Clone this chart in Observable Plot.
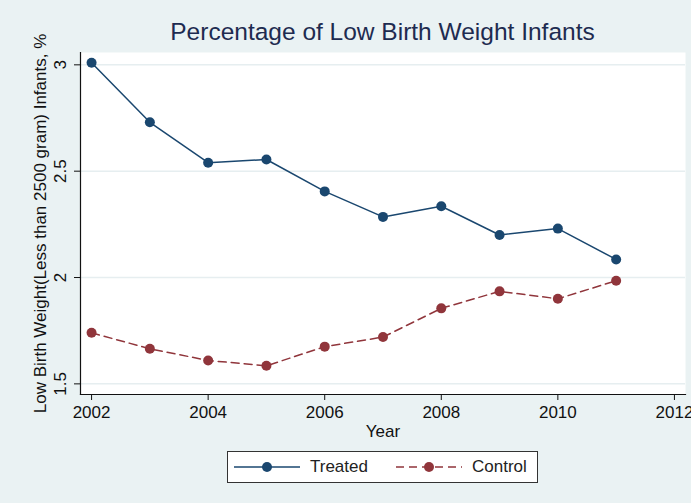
<!DOCTYPE html>
<html><head><meta charset="utf-8">
<script src="https://cdn.jsdelivr.net/npm/d3@7"></script>
<script src="https://cdn.jsdelivr.net/npm/@observablehq/plot@0.6"></script>
<style>
body{margin:0;background:#EAF2F3;}
#wrap{position:relative;width:691px;height:503px;background:#EAF2F3;font-family:"Liberation Sans",Arial,sans-serif;overflow:hidden}
#title{position:absolute;left:80px;width:605px;top:18px;line-height:28px;text-align:center;font-size:24.5px;color:#1e2b50;white-space:nowrap}
#chart{position:absolute;left:0;top:0}
#legend{position:absolute;left:227px;top:451px;width:311px;height:32px;box-sizing:border-box;background:#fff;border:1px solid #333;display:flex;align-items:center;font-size:17px;color:#222}
.item{display:flex;align-items:center}
</style></head>
<body>
<div id="wrap">
  <div id="chart"></div>
  <div id="title"></div>
  <div id="legend"></div>
</div>
<script>
const titleText = "Percentage of Low Birth Weight Infants";
const yLabel = "Low Birth Weight(Less than 2500 gram) Infants, %";
const xLabel = "Year";
const years = [2002, 2003, 2004, 2005, 2006, 2007, 2008, 2009, 2010, 2011];
const treated = [3.01, 2.73, 2.54, 2.555, 2.405, 2.285, 2.335, 2.2, 2.23, 2.085];
const control = [1.74, 1.665, 1.61, 1.585, 1.675, 1.72, 1.855, 1.935, 1.9, 1.985];
const seriesNames = ["Treated", "Control"];
const seriesColors = ["#1A476F", "#90353B"];
const seriesDash = [null, "8,5"];
const xTicks = [2002, 2004, 2006, 2008, 2010, 2012];
const yTicks = [1.5, 2, 2.5, 3];

const rows = [];
years.forEach((yr, i) => {
  rows.push({year: yr, value: treated[i], series: seriesNames[0]});
  rows.push({year: yr, value: control[i], series: seriesNames[1]});
});

document.getElementById("title").textContent = titleText;

const marks = [
  Plot.frame({fill: "white", stroke: null}),
  Plot.gridY(yTicks, {stroke: "#E6EEF0", strokeOpacity: 1, strokeWidth: 1.5}),
  Plot.frame({anchor: "left", stroke: "#111", strokeWidth: 1.2}),
  Plot.frame({anchor: "bottom", stroke: "#111", strokeWidth: 1.2}),
  Plot.axisY(yTicks, {tickSize: 6, tickRotate: -90, tickPadding: 9, fontSize: 17, tickFormat: d => String(d), label: yLabel, labelAnchor: "center", labelArrow: "none", labelOffset: 47, fill: "#111"}),
  Plot.axisX(xTicks, {tickSize: 6, tickPadding: 5, fontSize: 17, tickFormat: d => String(d), label: xLabel, labelAnchor: "center", labelArrow: "none", labelOffset: 42, fill: "#111"})
];
seriesNames.forEach((name, k) => {
  const data = rows.filter(r => r.series === name);
  marks.push(Plot.line(data, {x: "year", y: "value", stroke: seriesColors[k], strokeWidth: 1.5, strokeDasharray: seriesDash[k]}));
  marks.push(Plot.dot(data, {x: "year", y: "value", fill: seriesColors[k], r: 5}));
});

const chart = Plot.plot({
  width: 691,
  height: 445,
  marginTop: 52,
  marginBottom: 51,
  marginLeft: 80,
  marginRight: 6,
  style: {background: "transparent", fontSize: "17px", fontFamily: "'Liberation Sans', Arial, sans-serif", color: "#111"},
  x: {domain: [2001.81, 2012.19]},
  y: {domain: [1.45, 3.058]},
  marks
});
document.getElementById("chart").appendChild(chart);

const legend = document.getElementById("legend");
seriesNames.forEach((name, k) => {
  const item = document.createElement("div");
  item.className = "item";
  item.style.marginLeft = k === 0 ? "6px" : "28px";
  const ns = "http://www.w3.org/2000/svg";
  const sw = document.createElementNS(ns, "svg");
  sw.setAttribute("width", 66); sw.setAttribute("height", 12);
  const ln = document.createElementNS(ns, "line");
  ln.setAttribute("x1", 0); ln.setAttribute("x2", 66); ln.setAttribute("y1", 6); ln.setAttribute("y2", 6);
  ln.setAttribute("stroke", seriesColors[k]); ln.setAttribute("stroke-width", 1.5);
  if (seriesDash[k]) ln.setAttribute("stroke-dasharray", seriesDash[k]);
  const c = document.createElementNS(ns, "circle");
  c.setAttribute("cx", 33); c.setAttribute("cy", 6); c.setAttribute("r", 5); c.setAttribute("fill", seriesColors[k]);
  sw.appendChild(ln); sw.appendChild(c);
  const t = document.createElement("span");
  t.textContent = name; t.style.marginLeft = "10px";
  item.appendChild(sw); item.appendChild(t);
  legend.appendChild(item);
});
</script>
</body></html>
